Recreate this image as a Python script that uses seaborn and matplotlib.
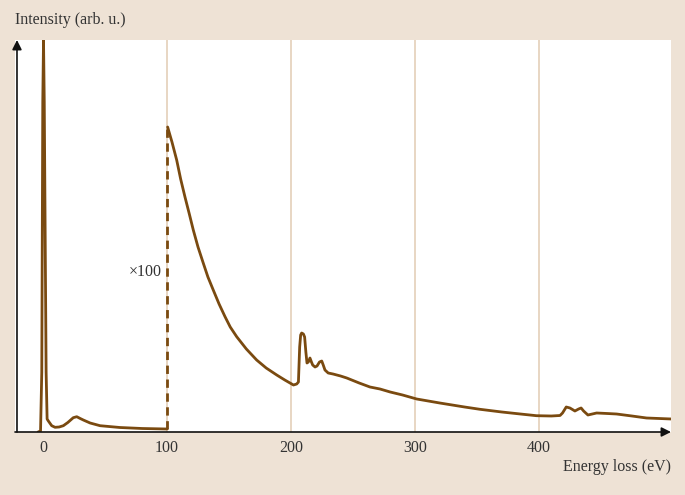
import matplotlib
matplotlib.use("Agg")
import matplotlib.pyplot as plt
import seaborn as sns
import pandas as pd

# low-loss region (zero-loss peak + plasmon), as measured
low_ev = [-4, -2, -1, -0.2, 0.4, 1.0, 2.5, 3.3, 4.3, 7, 9.7, 13, 16.4, 20,
          24.4, 27.2, 30, 32.5, 38, 46, 62, 80, 100]
low_int = [0, 1, 60, 330, 392, 330, 60, 13, 11, 6.3, 4.7, 5, 6.3, 9.5,
           14.3, 15.3, 13.5, 12, 9, 6.3, 4.5, 3.5, 3]

# core-loss region, scaled x100
core_ev = [100.5, 104, 107.8, 111, 114.5, 118, 121.2, 125, 129.3, 133, 137.3,
           142, 146.8, 151, 156.2, 164, 172.3, 180, 188.5, 195, 199.2, 202,
           204.6, 206, 207, 207.8, 208.6, 210, 211, 212, 212.9, 214, 215.3,
           216.5, 217.5, 219.4, 221, 223, 224.8, 226, 227.4, 230, 233.9, 240,
           245, 255, 263.7, 271.8, 280, 290, 301.4, 320, 340, 352.4, 370, 385,
           398, 410, 417, 419, 422, 425, 429, 432, 434, 436, 439.5, 443, 446.5,
           455, 462.6, 475, 486.8, 507]
core_int = [305, 290, 272, 253, 235, 218, 202, 185, 168.7, 155, 142, 128,
            115.3, 105, 95.3, 83, 72, 64, 57, 52, 49, 47, 48, 50, 85, 97, 99,
            98, 95, 80, 69, 70, 74, 70, 67, 65, 66, 70, 71, 67, 62, 59, 58, 56,
            54, 49, 45, 43, 40, 37, 33, 29, 25, 22.7, 20, 18, 16.3, 16, 16.5,
            19, 25, 24, 21, 23, 24, 21, 17, 18, 19, 18.5, 18, 16, 14, 13]

ticks = [0, 100, 200, 300, 400]
tick_labels = ["0", "100", "200", "300", "400"]
scale_label = "\u00d7100"

bg = "#EEE2D5"
brown = "#7A4A10"
grid_c = "#E6D3BE"
text_c = "#333333"

sns.set_style("white")
plt.rcParams["font.family"] = ["Liberation Serif", "DejaVu Serif"]

fig = plt.figure(figsize=(6.85, 4.95), dpi=100, facecolor=bg)
ax = fig.add_axes([15 / 685, 63 / 495, 656 / 685, 392 / 495])
ax.set_facecolor("white")

x0, x1 = -22.6, 506.5
ax.set_xlim(x0, x1)
ax.set_ylim(0, 392)

for t in ticks[1:]:
    ax.axvline(t, color=grid_c, lw=1.3, zorder=0)

low = pd.DataFrame({"ev": low_ev, "intensity": low_int})
core = pd.DataFrame({"ev": core_ev, "intensity": core_int})
sns.lineplot(data=low, x="ev", y="intensity", ax=ax, color=brown, lw=2,
             estimator=None, sort=False)
sns.lineplot(data=core, x="ev", y="intensity", ax=ax, color=brown, lw=2,
             estimator=None, sort=False)
# dashed joint between the two regions
ax.plot([low_ev[-1], low_ev[-1]], [low_int[-1], core_int[0]], color=brown,
        lw=2, ls=(0, (3, 2)))
ax.text(low_ev[-1] - 4.5, 160, scale_label, ha="right", va="center",
        fontsize=11.5, color=text_c)

for s in ax.spines.values():
    s.set_visible(False)

# axes with arrows
xa = -21
ax.annotate("", xy=(x1, 0), xytext=(x0, 0),
            arrowprops=dict(arrowstyle="-|>", color="#111111", lw=1.2,
                            mutation_scale=14, shrinkA=0, shrinkB=0),
            annotation_clip=False)
ax.annotate("", xy=(xa, 392), xytext=(xa, 0),
            arrowprops=dict(arrowstyle="-|>", color="#111111", lw=1.2,
                            mutation_scale=14, shrinkA=0, shrinkB=0),
            annotation_clip=False)

ax.set_xticks(ticks)
ax.set_xticklabels(tick_labels, fontsize=11.5, color=text_c)
ax.set_yticks([])
ax.tick_params(axis="x", length=0, pad=6)
ax.set_xlabel("")
ax.set_ylabel("")

fig.text(15 / 685, 1 - 20 / 495, "Intensity (arb. u.)", ha="left",
         va="center", fontsize=11.5, color=text_c)
fig.text(671 / 685, 1 - 467 / 495, "Energy loss (eV)", ha="right",
         va="center", fontsize=11.5, color=text_c)

fig.savefig("out.png", dpi=100, facecolor=bg)
